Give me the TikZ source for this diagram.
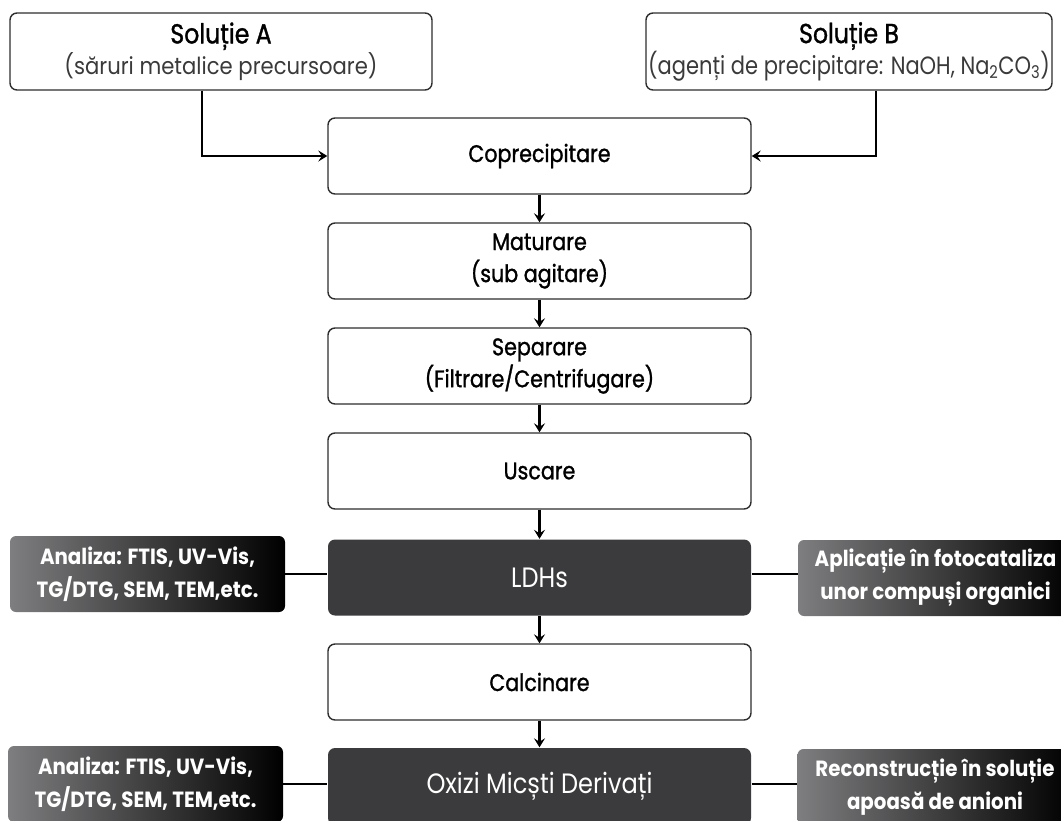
\documentclass[tikz,border=0pt]{standalone}
\usepackage{fontspec}
\setmainfont{Poppins}
\newfontfamily\futmed{Poppins}[FakeStretch=0.86, FakeBold=1.2]
\newfontfamily\futbook{Poppins}[FakeStretch=0.9]
\newfontfamily\futwhite{Poppins}[FakeStretch=0.86]
\newfontfamily\futcond{Poppins}[FakeStretch=0.84]
\usetikzlibrary{arrows.meta}
\definecolor{dark}{HTML}{3B3B3D}
\definecolor{edge}{HTML}{2E2E2E}
\definecolor{gradl}{HTML}{7E7E80}
\definecolor{subtxt}{HTML}{3A3A3A}
\begin{document}
\begin{tikzpicture}[x=1pt,y=-1pt,
  box/.style={draw=edge, line width=1.4pt, rounded corners=7pt, fill=white,
    minimum width=423pt, minimum height=76pt, inner sep=0pt, align=center,
    font=\futmed\fontsize{24}{32}\selectfont, text=black},
  darkbox/.style={box, draw=none, fill=dark, text=white,
    font=\futwhite\fontsize{28}{32}\selectfont},
  sidebox/.style={rounded corners=6pt, minimum width=275pt, minimum height=76pt,
    inner sep=0pt, align=center, left color=gradl, right color=black, text=white,
    font=\futbook\bfseries\fontsize{22}{33}\selectfont},
  arr/.style={-{Stealth[length=9pt,width=11pt,inset=3.5pt]}, line width=2.1pt},
  thickarr/.style={arr, line width=2.6pt},
  link/.style={line width=1.8pt}
]
\useasboundingbox (0,0) rectangle (1061,820);
\clip (0,0) rectangle (1061,820);

% top solution boxes
\node[box, minimum width=422pt, minimum height=77pt] (A) at (221,51.5)
  {{\fontsize{27.5}{32}\selectfont Soluție A}\\[-1pt]{\futbook\color{subtxt}\fontsize{23.5}{30}\selectfont (săruri metalice precursoare)}};
\node[box, minimum width=406pt, minimum height=77pt] (B) at (849,51.5)
  {{\fontsize{27.5}{32}\selectfont Soluție B}\\[-1pt]{\futcond\color{subtxt}\fontsize{25}{30}\selectfont (agenți de precipitare: NaOH, Na\textsubscript{2}CO\textsubscript{3})}};

% main column
\node[box] (cop) at (539.5,156) {Coprecipitare};
\node[box] (mat) at (539.5,261) {Maturare\\(sub agitare)};
\node[box] (sep) at (539.5,366) {Separare\\(Filtrare/Centrifugare)};
\node[box] (usc) at (539.5,471) {Uscare};
\node[darkbox] (ldh) at (539.5,577.5) {LDHs};
\node[box] (cal) at (539.5,682) {Calcinare};
\node[darkbox, minimum height=77pt] (oxi) at (539.5,786.5) {Oxizi Micști Derivați};

% side boxes
\node[sidebox] (an1) at (147.5,574) {Analiza: FTIS, UV-Vis,\\TG/DTG, SEM, TEM,etc.};
\node[sidebox] (ap1) at (935.5,578) {Aplicație în fotocataliza\\unor compuși organici};
\node[sidebox] (an2) at (145.5,784) {Analiza: FTIS, UV-Vis,\\TG/DTG, SEM, TEM,etc.};
\node[sidebox] (rec) at (935,787) {Reconstrucție în soluție\\apoasă de anioni};

% connectors
\draw[thickarr] ([xshift=-19pt]A.south) |- (cop.west);
\draw[thickarr] ([xshift=27pt]B.south) |- (cop.east);
\draw[arr] (cop) -- (mat);
\draw[arr] (mat) -- (sep);
\draw[arr] (sep) -- (usc);
\draw[arr] (usc) -- (ldh);
\draw[arr] (ldh) -- (cal);
\draw[arr] (cal) -- (oxi);

\draw[link] (an1.east) -- (an1.east -| ldh.west);
\draw[link] (ldh.east |- an1.east) -- (ap1.west |- an1.east);
\draw[link] (an2.east) -- (an2.east -| oxi.west);
\draw[link] (oxi.east |- an2.east) -- (rec.west |- an2.east);
\end{tikzpicture}
\end{document}
